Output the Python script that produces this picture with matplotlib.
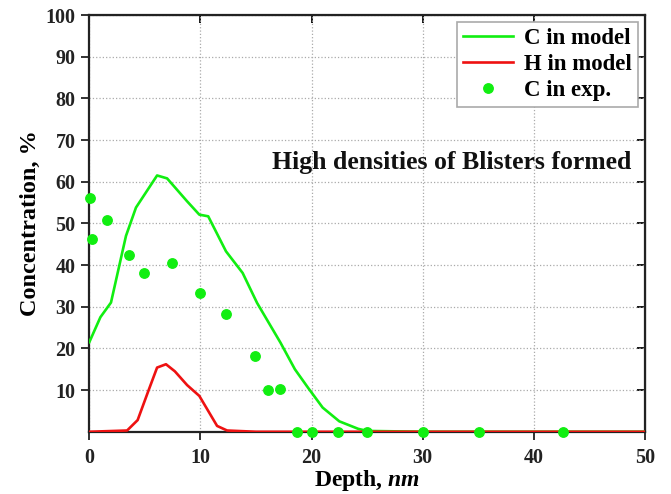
import matplotlib
matplotlib.use("Agg")
import matplotlib.pyplot as plt

plt.rcParams['font.family'] = ['Liberation Serif', 'DejaVu Serif']
plt.rcParams['font.weight'] = 'bold'
plt.rcParams['mathtext.fontset'] = 'custom'
plt.rcParams['mathtext.it'] = 'Liberation Serif:italic:bold'
plt.rcParams['mathtext.rm'] = 'Liberation Serif:bold'
plt.rcParams['mathtext.bf'] = 'Liberation Serif:bold'

# C in model
c_model_x = [0.0, 1.0, 1.95, 3.3, 4.2, 6.1, 7.0, 8.8, 9.9, 10.7, 12.3, 13.8, 15.1, 17.2,
             18.5, 19.7, 21.0, 22.5, 24.2, 25.0, 30.0, 40.0, 50.0]
c_model_y = [21.5, 27.5, 31.0, 47.0, 53.8, 61.5, 60.8, 55.3, 52.1, 51.7, 43.3, 38.1, 30.9, 21.4,
             15.0, 10.5, 5.8, 2.5, 0.7, 0.2, 0.0, 0.0, 0.0]

# H in model
h_model_x = [0.0, 3.4, 4.35, 5.3, 6.1, 6.9, 7.7, 8.8, 9.9, 11.5, 12.4, 15.0, 30.0, 50.0]
h_model_y = [0.0, 0.3, 2.8, 9.7, 15.4, 16.2, 14.5, 11.2, 8.6, 1.4, 0.3, 0.0, 0.0, 0.0]

# C in exp.
c_exp_x = [0.1, 0.25, 1.55, 3.6, 4.9, 7.4, 10.0, 12.3, 14.9, 16.1, 17.2,
           18.7, 20.0, 22.4, 25.0, 30.0, 35.1, 42.6]
c_exp_y = [56.1, 46.3, 50.8, 42.5, 38.1, 40.5, 33.3, 28.2, 18.1, 9.9, 10.3,
           0.0, 0.0, 0.0, 0.0, 0.0, 0.0, 0.0]

x_ticks = [0, 10, 20, 30, 40, 50]
y_ticks = [10, 20, 30, 40, 50, 60, 70, 80, 90, 100]

green = '#11EE11'
red = '#EE1111'

fig = plt.figure(figsize=(6.71, 4.94), dpi=100)
ax = fig.add_axes([0.1331, 0.126, 0.828, 0.8436])

ax.plot(c_model_x, c_model_y, color=green, lw=1.9, label='C in model', zorder=3)
ax.plot(h_model_x, h_model_y, color=red, lw=1.9, label='H in model', zorder=3)
ax.plot(c_exp_x, c_exp_y, 'o', color=green, ms=6.8, label='C in exp.', zorder=4,
        clip_on=False)

ax.set_xlim(0, 50)
ax.set_ylim(0, 100)
ax.set_xticks(x_ticks)
ax.set_yticks(y_ticks)
ax.grid(True, color='#AAAAAA', linestyle=':', linewidth=0.9)
ax.set_axisbelow(True)

for s in ax.spines.values():
    s.set_linewidth(1.6)
    s.set_color('#222222')

ax.tick_params(axis='both', which='major', labelsize=14.5, width=1.3, length=6,
               direction='out', colors='#222222', pad=4)
ax.tick_params(axis='x', pad=6)
for lab in ax.get_xticklabels() + ax.get_yticklabels():
    lab.set_fontweight('bold')

# inward ticks on top and right
ax2 = ax.secondary_xaxis('top')
ax2.set_xticks(x_ticks)
ax2.tick_params(direction='in', length=6, width=1.3, labeltop=False)
ax3 = ax.secondary_yaxis('right')
ax3.set_yticks(y_ticks)
ax3.tick_params(direction='in', length=6, width=1.3, labelright=False)

ax.set_xlabel('Depth, $\\mathit{nm}$', fontsize=17, fontweight='bold', labelpad=0)
ax.set_ylabel('Concentration, %', fontsize=17.5, fontweight='bold', labelpad=3)

ax.text(16.4, 64.6, 'High densities of Blisters formed', fontsize=18.5,
        fontweight='bold', ha='left', va='center', color='#111111')

leg = ax.legend(loc='upper right', fontsize=16.5, frameon=True, fancybox=False,
                edgecolor='#AAAAAA', framealpha=1, labelspacing=0.22,
                handlelength=2.2, borderpad=0.25, borderaxespad=0.3,
                handletextpad=0.5)
leg.get_frame().set_linewidth(1.2)

fig.savefig('out.png', dpi=100)
